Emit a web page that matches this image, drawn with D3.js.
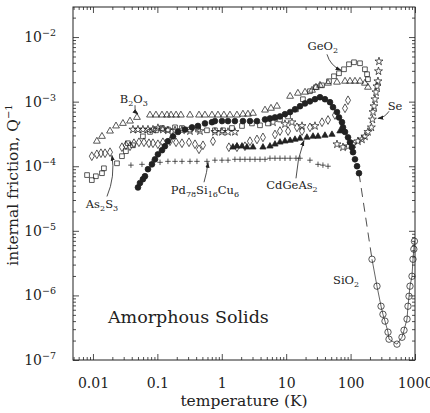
<html>
<head>
<style>
  body { margin: 0; background: #fff; }
  text { font-family: "DejaVu Serif", serif; fill: #222; }
</style>
</head>
<body>
<script src="https://d3js.org/d3.v7.min.js"></script>
<script>
// ---- data (temperature in K, internal friction Q^-1) ----
var b2o3T = [0.0115,0.0138,0.0184,0.0228,0.0292,0.0376,0.0482,
  0.0768,0.0951,0.118,0.141,0.163,0.195,0.232,0.321,0.443,0.548,0.704,0.873,1.08,1.34,1.72,
  2.13,2.55,3.05,4.69,5.81,7.19,
  11.5,15.2,19.6,25.2,29.0,33.5,44.6,61.5,81.9,97.9,117,140,167,186];
var b2o3Q = [2.44e-4,2.9e-4,3.5e-4,4.2e-4,4.6e-4,5.0e-4,5.7e-4,
  6.2e-4,6.2e-4,6.2e-4,6.2e-4,6.2e-4,6.2e-4,6.2e-4,6.2e-4,6.2e-4,6.2e-4,6.2e-4,6.2e-4,6.2e-4,6.2e-4,6.2e-4,
  6.4e-4,6.4e-4,6.6e-4,7.4e-4,7.9e-4,8.5e-4,
  1.21e-3,1.35e-3,1.40e-3,1.50e-3,1.67e-3,1.79e-3,1.93e-3,2.0e-3,2.07e-3,2.07e-3,2.07e-3,2.07e-3,1.93e-3,1.67e-3];

var geo2T = [0.0081,0.0096,0.0111,0.0138,0.0148,0.0236,0.0282,0.0325,0.0349,0.0418,
  0.0597,0.0768,0.0951,0.118,0.146,0.188,0.241,0.321,0.427,0.589,0.783,1.045,
  1.44,2.06,2.94,3.92,5.21,
  8.01,10.7,14.2,18.2,23.4,29.0,36.0,46.2,55.2,66.1,79.0,94.4,113,140,
  167,180,186];
var geo2Q = [7.3e-5,6.1e-5,7.0e-5,7.8e-5,9.3e-5,1.11e-4,1.43e-4,1.71e-4,2.27e-4,2.11e-4,
  2.9e-4,3.4e-4,3.6e-4,3.9e-4,3.7e-4,4.0e-4,3.9e-4,3.7e-4,3.7e-4,3.6e-4,3.6e-4,3.6e-4,
  3.9e-4,4.2e-4,4.6e-4,4.3e-4,4.6e-4,
  5.3e-4,5.9e-4,7.6e-4,1.09e-3,1.45e-3,1.67e-3,1.79e-3,2.07e-3,2.47e-3,2.75e-3,3.17e-3,3.79e-3,4.07e-3,3.93e-3,
  3.17e-3,2.66e-3,2.22e-3];

var seT = [0.0418,0.050,0.0597,0.0715,0.0855,0.102,0.122,0.146,0.188,0.241,0.321,0.459,0.783,1.007,1.25,1.60,
  6.24,9.58,12.3,17.6,28.0,
  61.5,76.2,91.2,109,130,150,167,186,210,218,223,231,239,248,257,266,271,276];
var seQ = [3.7e-4,3.7e-4,3.7e-4,3.7e-4,3.7e-4,3.9e-4,3.7e-4,3.6e-4,3.6e-4,3.6e-4,3.5e-4,3.5e-4,3.4e-4,3.4e-4,3.4e-4,3.4e-4,
  4.8e-4,4.5e-4,4.8e-4,4.2e-4,4.2e-4,
  2.19e-4,1.97e-4,2.04e-4,2.19e-4,2.44e-4,2.6e-4,2.9e-4,3.4e-4,4.0e-4,5.3e-4,6.9e-4,8.5e-4,1.09e-3,1.40e-3,1.73e-3,2.07e-3,2.96e-3,4.2e-3];

var as2s3T = [0.0096,0.0115,0.0133,0.0154,0.0184,0.0282,0.0325,0.0376,0.0433,0.0518,0.0619,0.0741,0.0855,0.102,
  0.122,0.157,0.195,0.241,0.310,0.384,0.443,0.511,0.730,1.29,1.72,2.29,2.74,3.52,4.36,6.70,8.01,10.7,14.7,
  17.6,23.4,36.0,44.6,57.2,81.9,91.2];
var as2s3Q = [1.43e-4,1.53e-4,1.59e-4,1.59e-4,1.65e-4,1.97e-4,2.11e-4,2.04e-4,2.27e-4,2.35e-4,2.35e-4,2.27e-4,2.27e-4,2.19e-4,
  2.35e-4,2.44e-4,2.35e-4,2.27e-4,2.35e-4,2.19e-4,1.83e-4,2.11e-4,2.44e-4,1.97e-4,1.97e-4,2.04e-4,2.44e-4,2.6e-4,2.8e-4,3.1e-4,3.5e-4,3.5e-4,4.0e-4,
  3.5e-4,4.0e-4,4.8e-4,5.2e-4,6.2e-4,7.9e-4,1.05e-3];

// SiO2, filled circles (low temperature) and open circles (high temperature)
var sio2T = [0.050,0.0537,0.0597,0.0642,0.0715,0.0824,0.0918,0.102,0.118,0.131,0.146,0.175,0.209,0.268,0.345,0.427,0.548,0.704,
  0.783,1.007,1.25,1.60,2.13,2.74,3.52,
  4.69,5.60,6.70,8.01,9.58,11.5,13.7,16.4,19.6,23.4,28.0,33.5,
  40.0,47.9,53.3,61.5,66.1,73.5,76.2,81.9,91.2,97.9,105,109,117,126,135];
var sio2Q = [4.7e-5,5.5e-5,6.3e-5,7.0e-5,9.0e-5,1.07e-4,1.28e-4,1.53e-4,1.77e-4,2.04e-4,2.44e-4,2.9e-4,3.4e-4,3.7e-4,4.0e-4,4.2e-4,4.6e-4,4.8e-4,
  5.0e-4,5.0e-4,5.0e-4,5.0e-4,5.0e-4,5.0e-4,5.0e-4,
  5.3e-4,5.5e-4,5.7e-4,5.9e-4,6.4e-4,6.9e-4,7.6e-4,8.5e-4,9.4e-4,1.01e-3,1.09e-3,1.17e-3,
  1.09e-3,9.8e-4,8.2e-4,6.9e-4,5.7e-4,4.8e-4,4.0e-4,3.4e-4,2.8e-4,2.35e-4,1.97e-4,1.65e-4,1.28e-4,1.0e-4,7.8e-5];
var sio2HighT = [215,257,297,318,342,381,395,525,628,675,752,778,807,836,898,931,960,980];
var sio2HighQ = [3.63e-6,1.39e-6,6.8e-7,5.1e-7,4.0e-7,2.7e-7,2.1e-7,1.76e-7,2.25e-7,2.89e-7,4.3e-7,6.8e-7,9.7e-7,1.39e-6,1.98e-6,3.63e-6,5.2e-6,6.9e-6];

var pdT = [0.0389,0.0577,0.0824,0.110,0.146,0.188,0.241,0.321,0.412,0.589,0.783,1.007,1.25,
  1.60,1.92,2.29,2.74,3.28,3.92,4.69,5.60,6.70,8.01,9.58,11.5,14.2,16.4,23.4,31.2,37.2,44.6];
var pdQ = [1.04e-4,1.07e-4,1.15e-4,1.15e-4,1.19e-4,1.19e-4,1.19e-4,1.19e-4,1.19e-4,1.19e-4,1.24e-4,1.24e-4,1.24e-4,
  1.28e-4,1.28e-4,1.28e-4,1.28e-4,1.28e-4,1.28e-4,1.28e-4,1.33e-4,1.33e-4,1.33e-4,1.33e-4,1.33e-4,1.33e-4,1.33e-4,1.24e-4,1.07e-4,1.04e-4,1.0e-4];

var cdT = [1.49,1.72,2.06,2.46,3.05,4.36,5.60,6.70,8.01,9.58,11.5,13.7,16.4,21.0,26.1,31.2,40.0,51.4,68.4,76.2];
var cdQ = [1.97e-4,2.04e-4,2.04e-4,1.97e-4,1.97e-4,1.97e-4,2.04e-4,2.19e-4,2.35e-4,2.44e-4,2.5e-4,2.6e-4,2.7e-4,2.8e-4,2.9e-4,2.9e-4,3.0e-4,3.1e-4,3.5e-4,3.7e-4];

var xMajor = [0.01, 0.1, 1, 10, 100, 1000];
var xLabels = ["0.01", "0.1", "1", "10", "100", "1000"];
var yMajor = [1e-7, 1e-6, 1e-5, 1e-4, 1e-3, 1e-2];

// labels on the plot: text, label position, arrow start, arrow end (all in data units)
var notes = [
  {text: "GeO2", at: [37, 7.2e-3], from: [43, 5.4e-3], to: [71, 3.06e-3], bend: 5},
  {text: "B2O3", at: [0.043, 1.09e-3], from: [0.045, 8.8e-4], to: [0.050, 6.4e-4], bend: 3},
  {text: "Se", at: [489, 8.5e-4], from: [395, 7.1e-4], to: [266, 5.5e-4], bend: -3},
  {text: "As2S3", at: [0.0138, 2.58e-5], from: [0.0165, 3.4e-5], to: [0.0197, 1.48e-4], bend: 6},
  {text: "Pd78Si16Cu6", at: [0.548, 4.25e-5], from: [0.53, 5.65e-5], to: [0.611, 1.15e-4], bend: 1},
  {text: "CdGeAs2", at: [12.3, 5.1e-5], from: [14.2, 6.5e-5], to: [18.9, 2.5e-4], bend: -3},
  {text: "SiO2", at: [85, 1.72e-6]}
];

var w = 430, h = 413;
var plotL = 73, plotR = 415, plotT = 7, plotB = 360;
var ink = "#222";

var x = d3.scaleLog().domain([0.0049, 1000]).range([plotL, plotR]);
var y = d3.scaleLog().domain([1e-7, 0.0292]).range([plotB, plotT]);

var svg = d3.select("body").append("svg")
            .attr("width", w)
            .attr("height", h);

svg.append("defs").append("marker")
   .attr("id", "ah")
   .attr("viewBox", "0 0 10 10")
   .attr("refX", 9).attr("refY", 5)
   .attr("markerUnits", "userSpaceOnUse")
   .attr("markerWidth", 6).attr("markerHeight", 6)
   .attr("orient", "auto")
   .append("path")
   .attr("d", "M0,1.5L10,5L0,8.5z")
   .attr("fill", ink);

// minor tick positions
var minorX = [], minorY = [];
[0.001, 0.01, 0.1, 1, 10, 100].forEach(function(d) {
  for (var k = 2; k < 10; k++) {
    var v = d * k;
    if (v >= x.domain()[0] && v <= x.domain()[1]) minorX.push(v);
  }
});
[1e-7, 1e-6, 1e-5, 1e-4, 1e-3, 1e-2].forEach(function(d) {
  for (var k = 2; k < 10; k++) {
    var v = d * k;
    if (v >= y.domain()[0] && v <= y.domain()[1]) minorY.push(v);
  }
});

function styleAxis(g) {
  g.select(".domain").remove();
  g.attr("color", ink)
   .attr("font-family", "DejaVu Serif, serif")
   .attr("font-size", 14);
  g.selectAll(".tick line").attr("stroke-width", 0.8);
}

// bottom
svg.append("g").attr("transform", "translate(0," + plotB + ")")
   .call(d3.axisBottom(x).tickValues(minorX).tickSize(-3).tickFormat(""))
   .call(styleAxis);
svg.append("g").attr("transform", "translate(0," + plotB + ")")
   .call(d3.axisBottom(x).tickValues(xMajor).tickSize(-6).tickPadding(18)
         .tickFormat(function(d, i) { return xLabels[i]; }))
   .call(styleAxis);
// top
svg.append("g").attr("transform", "translate(0," + plotT + ")")
   .call(d3.axisTop(x).tickValues(minorX).tickSize(-3).tickFormat(""))
   .call(styleAxis);
svg.append("g").attr("transform", "translate(0," + plotT + ")")
   .call(d3.axisTop(x).tickValues(xMajor).tickSize(-6).tickFormat(""))
   .call(styleAxis);
// left
svg.append("g").attr("transform", "translate(" + plotL + ",0)")
   .call(d3.axisLeft(y).tickValues(minorY).tickSize(-3).tickFormat(""))
   .call(styleAxis);
var yAxis = svg.append("g").attr("transform", "translate(" + plotL + ",0)")
   .call(d3.axisLeft(y).tickValues(yMajor).tickSize(-6).tickPadding(17))
   .call(styleAxis);
yAxis.selectAll(".tick text").each(function(d) {
  var t = d3.select(this).text("");
  t.append("tspan").text("10");
  t.append("tspan").attr("dy", -6).attr("font-size", 9.5)
   .text("\u2212" + Math.abs(Math.round(Math.log10(d))));
});
// right
svg.append("g").attr("transform", "translate(" + plotR + ",0)")
   .call(d3.axisRight(y).tickValues(minorY).tickSize(-3).tickFormat(""))
   .call(styleAxis);
svg.append("g").attr("transform", "translate(" + plotR + ",0)")
   .call(d3.axisRight(y).tickValues(yMajor).tickSize(-6).tickFormat(""))
   .call(styleAxis);

svg.append("rect")
   .attr("x", plotL).attr("y", plotT)
   .attr("width", plotR - plotL).attr("height", plotB - plotT)
   .attr("fill", "none").attr("stroke", ink).attr("stroke-width", 1);

// axis titles
svg.append("text")
   .attr("x", (plotL + plotR) / 2 + 0).attr("y", 406)
   .attr("text-anchor", "middle")
   .attr("font-size", 15.5)
   .text("temperature (K)");

var yt = svg.append("text")
   .attr("transform", "translate(18,185) rotate(-90)")
   .attr("text-anchor", "middle")
   .attr("font-size", 15.5);
yt.append("tspan").text("internal friction, Q");
yt.append("tspan").attr("dy", -6).attr("font-size", 10).text("\u22121");

// series
var plus = {
  draw: function(ctx, size) {
    var r = Math.sqrt(size) / 2;
    ctx.moveTo(-r, 0); ctx.lineTo(r, 0);
    ctx.moveTo(0, -r); ctx.lineTo(0, r);
  }
};

var marks = svg.append("g");

// dashed link between the two SiO2 sets and the line through the open circles
var line = d3.line().x(function(d) { return x(d[0]); }).y(function(d) { return y(d[1]); });
marks.append("path")
     .attr("d", line([[sio2T[sio2T.length - 1], sio2Q[sio2Q.length - 1]], [sio2HighT[0], sio2HighQ[0]]]))
     .attr("fill", "none").attr("stroke", ink).attr("stroke-width", 0.8)
     .attr("stroke-dasharray", "9,6");
marks.append("path")
     .attr("d", line(sio2HighT.map(function(d, i) { return [d, sio2HighQ[i]]; })))
     .attr("fill", "none").attr("stroke", ink).attr("stroke-width", 0.7);

function drawSeries(T, Q, type, size, filled) {
  marks.append("g").selectAll("path")
       .data(T)
       .enter()
       .append("path")
       .attr("transform", function(d, i) { return "translate(" + x(d) + "," + y(Q[i]) + ")"; })
       .attr("d", d3.symbol().type(type).size(size))
       .attr("fill", filled ? ink : "none")
       .attr("stroke", ink)
       .attr("stroke-width", 0.75);
}

drawSeries(pdT, pdQ, plus, 30, false);
drawSeries(as2s3T, as2s3Q, d3.symbolDiamond, 22, false);
drawSeries(geo2T, geo2Q, d3.symbolSquare, 22, false);
drawSeries(b2o3T, b2o3Q, d3.symbolTriangle, 20, false);
drawSeries(seT, seQ, d3.symbolStar, 20, false);
drawSeries(cdT, cdQ, d3.symbolTriangle, 17, true);
drawSeries(sio2T, sio2Q, d3.symbolCircle, 26, true);
drawSeries(sio2HighT, sio2HighQ, d3.symbolCircle, 32, false);

// annotations
function subText(sel, s) {
  var parts = s.match(/\d+|\D+/g);
  var down = false;
  parts.forEach(function(p) {
    var isNum = /^\d/.test(p);
    var ts = sel.append("tspan").text(p);
    if (isNum) { ts.attr("font-size", 8).attr("dy", 3); down = true; }
    else if (down) { ts.attr("dy", -3); down = false; }
  });
}

notes.forEach(function(n) {
  var t = svg.append("text")
     .attr("x", x(n.at[0])).attr("y", y(n.at[1]))
     .attr("dy", "0.35em")
     .attr("text-anchor", "middle")
     .attr("font-size", 11.5);
  subText(t, n.text);
  if (n.from) {
    var x1 = x(n.from[0]), y1 = y(n.from[1]), x2 = x(n.to[0]), y2 = y(n.to[1]);
    var dx = x2 - x1, dy = y2 - y1, len = Math.sqrt(dx * dx + dy * dy);
    var cx = (x1 + x2) / 2 - dy / len * n.bend, cy = (y1 + y2) / 2 + dx / len * n.bend;
    svg.append("path")
       .attr("d", "M" + x1 + "," + y1 + "Q" + cx + "," + cy + " " + x2 + "," + y2)
       .attr("fill", "none").attr("stroke", ink).attr("stroke-width", 0.8)
       .attr("marker-end", "url(#ah)");
  }
});

svg.append("text")
   .attr("x", x(0.0171)).attr("y", y(3.7e-7))
   .attr("font-size", 17.5)
   .text("Amorphous Solids");
</script>
</body>
</html>
